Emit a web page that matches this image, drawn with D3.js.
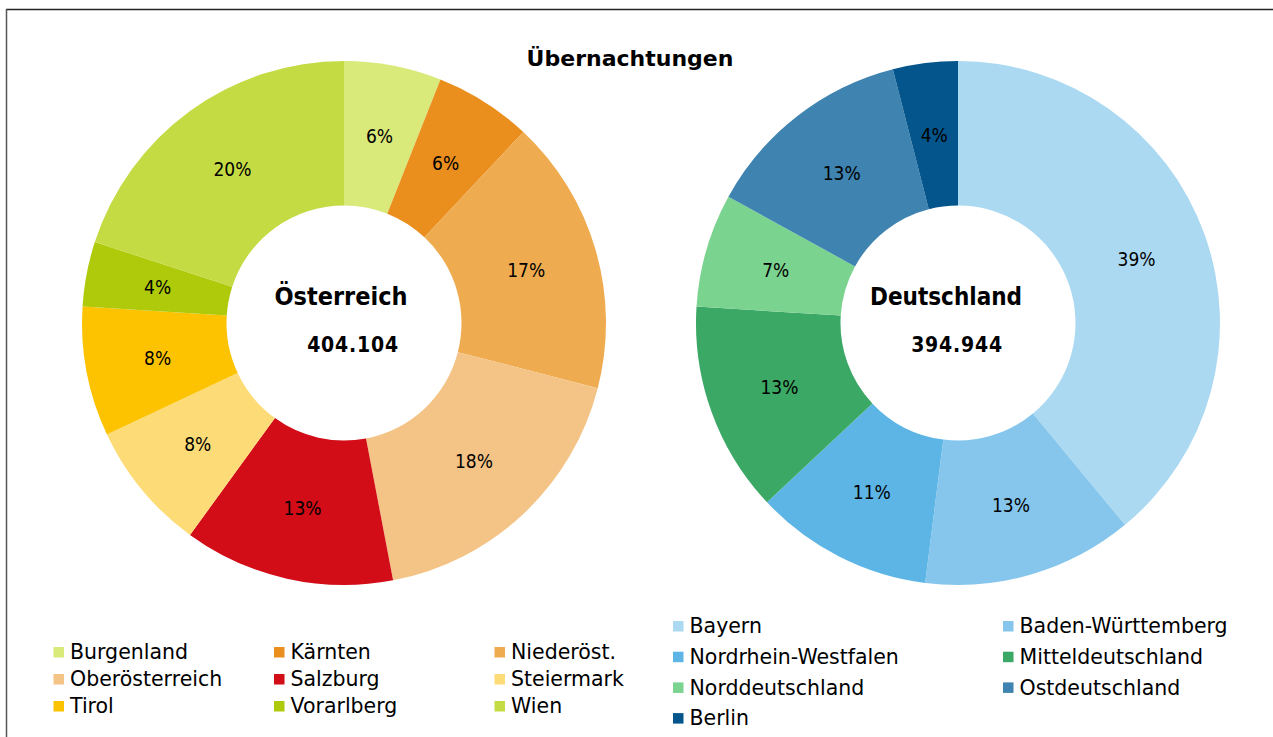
<!DOCTYPE html>
<html>
<head>
<meta charset="utf-8">
<script src="https://cdn.jsdelivr.net/npm/d3@7"></script>
<style>
  html, body { margin: 0; padding: 0; background: #fff; }
  svg { display: block; }
  text { font-family: "DejaVu Sans Condensed", "DejaVu Sans", sans-serif; font-stretch: condensed; fill: #000; }
  text.wide { font-family: "DejaVu Sans", sans-serif; font-stretch: normal; }
</style>
</head>
<body>
<script>
// Übernachtungen nach Herkunftsregion, Anteile in Prozent
const atRegions = ["Burgenland", "Kärnten", "Niederöst.", "Oberösterreich", "Salzburg", "Steiermark", "Tirol", "Vorarlberg", "Wien"];
const atShares  = [6, 6, 17, 18, 13, 8, 8, 4, 20];
const atColors  = ["#d9ea7b", "#ea8e1e", "#efab4f", "#f4c486", "#d20d18", "#fddc78", "#fdc300", "#afca0b", "#c5db44"];
const atTotal   = "404.104";

const deRegions = ["Bayern", "Baden-Württemberg", "Nordrhein-Westfalen", "Mitteldeutschland", "Norddeutschland", "Ostdeutschland", "Berlin"];
const deShares  = [39, 13, 11, 13, 7, 13, 4];
const deColors  = ["#acd9f2", "#86c6ec", "#5db5e6", "#3ba865", "#7bd390", "#3f83b0", "#04558b"];
const deTotal   = "394.944";

const W = 1273, H = 737;
const svg = d3.select("body").append("svg").attr("width", W).attr("height", H);

// frame lines (top and left)
svg.append("line").attr("x1", 6).attr("y1", 9.5).attr("x2", W).attr("y2", 9.5)
  .attr("stroke", "#222").attr("stroke-width", 1.5);
svg.append("line").attr("x1", 6.5).attr("y1", 9).attr("x2", 6.5).attr("y2", H)
  .attr("stroke", "#555").attr("stroke-width", 1.5);

svg.append("text").attr("class", "wide").attr("x", 630).attr("y", 66).attr("text-anchor", "middle")
  .attr("font-size", 22).attr("font-weight", "bold").text("Übernachtungen");

const R = 262, r0 = 117.5;
const arc = d3.arc().innerRadius(r0).outerRadius(R);
const pie = d3.pie().sort(null).value(d => d.v);

function donut(cx, cy, names, shares, colors, title, total, titleDx, totalDx, titleSize) {
  const color = d3.scaleOrdinal().domain(names).range(colors);
  const data = names.map((n, i) => ({ n, v: shares[i] }));
  const g = svg.append("g").attr("transform", `translate(${cx},${cy})`);
  const arcs = pie(data);
  g.selectAll("path").data(arcs).join("path")
    .attr("d", arc).attr("fill", d => color(d.data.n));
  g.selectAll("text.pct").data(arcs).join("text")
    .attr("class", "pct")
    .attr("transform", d => `translate(${arc.centroid(d)})`)
    .attr("text-anchor", "middle").attr("dy", "0.36em")
    .attr("font-size", 19)
    .text(d => d.data.v + "%");
  g.append("text").attr("x", titleDx).attr("y", -27).attr("text-anchor", "middle")
    .attr("dy", "0.36em").attr("font-size", titleSize).attr("font-weight", "bold").text(title);
  g.append("text").attr("x", totalDx).attr("y", 21).attr("text-anchor", "middle")
    .attr("dy", "0.36em").attr("font-size", 21).attr("font-weight", "bold")
    .attr("letter-spacing", 0.8).text(total);
  return color;
}

const atColor = donut(344, 323, atRegions, atShares, atColors, "Österreich", atTotal, -3, 9, 25);
const deColor = donut(958, 323, deRegions, deShares, deColors, "Deutschland", deTotal, -12, -1, 24);

function legend(names, color, x0, colW, y0, rowH, cols) {
  const g = svg.append("g");
  const items = g.selectAll("g").data(names).join("g")
    .attr("transform", (d, i) => `translate(${x0 + (i % cols) * colW},${y0 + Math.floor(i / cols) * rowH})`);
  items.append("rect").attr("x", 0).attr("y", -5).attr("width", 10.5).attr("height", 10.5)
    .attr("fill", d => color(d));
  items.append("text").attr("class", "wide").attr("x", 16.5).attr("y", 0).attr("dy", "0.36em")
    .attr("font-size", 20.5).text(d => d);
}

legend(atRegions, atColor, 53.5, 220.5, 652, 27, 3);
legend(deRegions, deColor, 673, 330, 626, 30.7, 2);
</script>
</body>
</html>
